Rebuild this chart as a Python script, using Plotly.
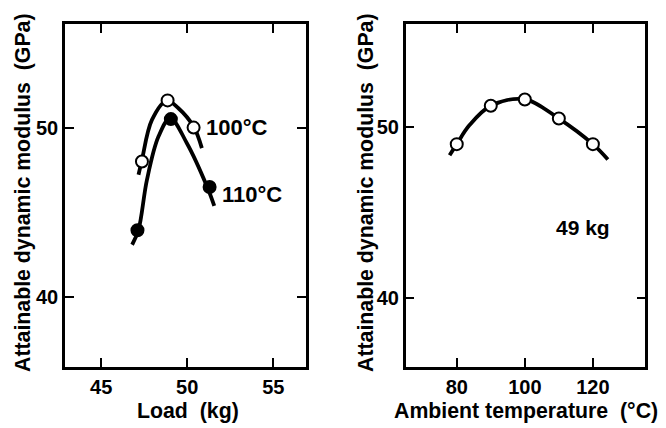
import plotly.graph_objects as go

# ---- data ----
# Left panel: attainable dynamic modulus vs load
load_100 = [47.37, 48.86, 50.37]
mod_100 = [48.0, 51.6, 50.0]
load_110 = [47.11, 49.05, 51.30]
mod_110 = [43.95, 50.5, 46.5]

# hand-drawn fitted curves
curve100_x = [47.17, 47.37, 47.95, 48.82, 49.49, 50.37, 50.85]
curve100_y = [47.22, 48.10, 50.45, 51.59, 51.14, 50.06, 48.79]
curve110_x = [46.80, 47.17, 47.66, 48.33, 49.01, 49.98, 51.15, 51.57]
curve110_y = [43.10, 43.98, 46.92, 49.47, 50.55, 49.08, 46.53, 45.39]

# Right panel: attainable dynamic modulus vs ambient temperature (49 kg)
temp = [80, 90, 100, 110, 120]
mod_temp = [49.0, 51.25, 51.62, 50.5, 49.0]
curveT_x = [77.9, 80, 83.7, 90, 100, 110, 120, 124.4]
curveT_y = [48.35, 49.0, 50.1, 51.25, 51.62, 50.5, 49.0, 48.1]

x1_ticks = [45, 50, 55]
x2_ticks = [80, 100, 120]
y_ticks = [40, 50]

FONT = "Liberation Sans"
W, H = 666, 428

fig = go.Figure()

line = dict(color="black", width=3.8, shape="spline", smoothing=1)

fig.add_trace(go.Scatter(x=curve100_x, y=curve100_y, mode="lines", line=line,
                         xaxis="x", yaxis="y", showlegend=False, hoverinfo="skip"))
fig.add_trace(go.Scatter(x=curve110_x, y=curve110_y, mode="lines", line=line,
                         xaxis="x", yaxis="y", showlegend=False, hoverinfo="skip"))
fig.add_trace(go.Scatter(x=load_100, y=mod_100, mode="markers", name="100°C",
                         marker=dict(size=12, color="white", line=dict(color="black", width=2)),
                         xaxis="x", yaxis="y", showlegend=False))
fig.add_trace(go.Scatter(x=load_110, y=mod_110, mode="markers", name="110°C",
                         marker=dict(size=12, color="black", line=dict(color="black", width=2)),
                         xaxis="x", yaxis="y", showlegend=False))

fig.add_trace(go.Scatter(x=curveT_x, y=curveT_y, mode="lines", line=line,
                         xaxis="x2", yaxis="y2", showlegend=False, hoverinfo="skip"))
fig.add_trace(go.Scatter(x=temp, y=mod_temp, mode="markers", name="49 kg",
                         marker=dict(size=12, color="white", line=dict(color="black", width=2)),
                         xaxis="x2", yaxis="y2", showlegend=False))

ax_common = dict(showgrid=False, zeroline=False, showline=True, linecolor="black",
                 linewidth=2.5, mirror="ticks", ticks="inside", ticklen=9,
                 tickwidth=2, tickcolor="black",
                 tickfont=dict(family=FONT, size=20, color="black", weight=700))

ydom = [1 - 367 / H, 1 - 24 / H]

fig.update_layout(
    width=W, height=H,
    margin=dict(l=0, r=0, t=0, b=0),
    paper_bgcolor="white", plot_bgcolor="white",
    font=dict(family=FONT, color="black"),
    xaxis=dict(domain=[65 / W, 306 / W], range=[42.9, 56.9], tickvals=x1_ticks,
               anchor="y", **ax_common),
    yaxis=dict(domain=ydom, range=[35.9, 56.1], tickvals=y_ticks,
               anchor="x", **ax_common),
    xaxis2=dict(domain=[405.7 / W, 645.3 / W], range=[65.0, 135.4], tickvals=x2_ticks,
                anchor="y2", **ax_common),
    yaxis2=dict(domain=ydom, range=[35.94, 56.04], tickvals=y_ticks,
                anchor="x2", **ax_common),
)

tfont = dict(family=FONT, size=21.3, color="black", weight="bold")
annots = [
    dict(text="Load  (kg)", x=188.5 / W, y=1 - 411 / H),
    dict(text="Ambient temperature  (°C)", x=525.5 / W, y=1 - 411 / H),
    dict(text="Attainable dynamic modulus  (GPa)", x=23 / W, y=1 - 193 / H, textangle=-90),
    dict(text="Attainable dynamic modulus  (GPa)", x=366 / W, y=1 - 193 / H, textangle=-90),
]
for a in annots:
    fig.add_annotation(xref="paper", yref="paper", showarrow=False, xanchor="center",
                       yanchor="middle", font=tfont, **a)

lfont = dict(family=FONT, size=22, color="black", weight="bold")
fig.add_annotation(text="100°C", x=50.99, y=50.0, xref="x", yref="y", showarrow=False,
                   xanchor="left", yanchor="middle", font=lfont)
fig.add_annotation(text="110°C", x=51.92, y=46.05, xref="x", yref="y", showarrow=False,
                   xanchor="left", yanchor="middle", font=lfont)
fig.add_annotation(text="49 kg", x=117.1, y=44.1, xref="x2", yref="y2", showarrow=False,
                   xanchor="center", yanchor="middle",
                   font=dict(family=FONT, size=21, color="black", weight="bold"))

fig.write_html("out.html", config={"displayModeBar": False},
               post_script="document.body.style.margin='0px';")
